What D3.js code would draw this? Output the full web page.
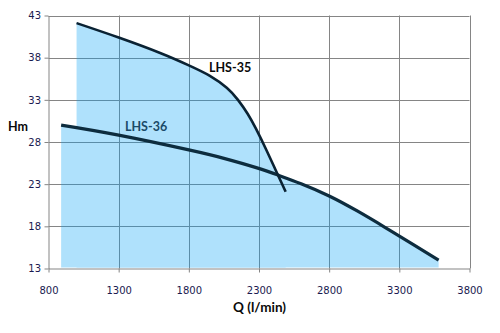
<!DOCTYPE html>
<html><head><meta charset="utf-8">
<script src="https://cdn.jsdelivr.net/npm/d3@7"></script>
<style>html,body{margin:0;padding:0;background:#fff;}</style>
</head><body>
<svg id="c" width="500" height="333"></svg>
<script>
const xTicks = [800, 1300, 1800, 2300, 2800, 3300, 3800];
const yTicks = [13, 18, 23, 28, 33, 38, 43];
const lhs35Q = [1000, 1300, 1600, 1800, 1950, 2070, 2150, 2220, 2280, 2350, 2420, 2490];
const lhs35H = [42.1, 40.39, 38.53, 37.09, 35.85, 34.43, 33.0, 31.32, 29.52, 27.14, 24.62, 22.1];
const lhs36Q = [890, 1300, 1800, 2050, 2280, 2440, 2600, 2800, 3000, 3200, 3400, 3580];
const lhs36H = [30.0, 28.81, 27.06, 26.06, 24.96, 24.05, 23.05, 21.6, 19.82, 17.86, 15.84, 14.0];
const seriesNames = ["LHS-35", "LHS-36"];

const svg = d3.select("#c");
const x = d3.scaleLinear().domain([800, 3800]).range([48.5, 469.5]);
const y = d3.scaleLinear().domain([13, 43]).range([268.5, 15.5]);

const s35 = lhs35Q.map((q, i) => ({q, h: lhs35H[i]}));
const s36 = lhs36Q.map((q, i) => ({q, h: lhs36H[i]}));
const curve = d3.curveNatural;

// grid
const grid = svg.append("g");
grid.selectAll(".gx").data(xTicks.slice(1)).join("line")
  .attr("x1", d => Math.round(x(d)) + 0.5).attr("x2", d => Math.round(x(d)) + 0.5)
  .attr("y1", y(43)).attr("y2", y(13)).attr("stroke", "#858585").attr("stroke-width", 1);
grid.selectAll(".gy").data(yTicks.slice(1)).join("line")
  .attr("y1", d => Math.round(y(d)) + 0.5).attr("y2", d => Math.round(y(d)) + 0.5)
  .attr("x1", x(800)).attr("x2", x(3800)).attr("stroke", "#858585").attr("stroke-width", 1);

// areas
const area = d3.area().x(d => x(d.q)).y0(y(13) - 1).y1(d => y(d.h)).curve(curve);
const ag = svg.append("g").attr("opacity", 0.31);
ag.append("path").datum(s36).attr("d", area).attr("fill", "rgb(0,160,246)");
ag.append("path").datum(s35).attr("d", area).attr("fill", "rgb(0,160,246)");

// axes
const xAxis = d3.axisBottom(x).tickValues(xTicks).tickSize(4).tickSizeOuter(0).tickFormat(d3.format("d"));
const yAxis = d3.axisLeft(y).tickValues(yTicks).tickSize(4).tickSizeOuter(0).tickFormat(d3.format("d"));
const gx = svg.append("g").attr("transform", `translate(0,${y(13)})`).call(xAxis);
const gy = svg.append("g").attr("transform", `translate(${x(800)},0)`).call(yAxis);
[gx, gy].forEach(g => {
  g.select(".domain").attr("stroke", "#858585");
  g.selectAll(".tick line").attr("stroke", "#858585");
  g.selectAll(".tick text").attr("fill", "#1a1a50")
    .style("font-family", "'DejaVu Sans', Verdana, sans-serif").style("font-size", "10px");
});
gx.selectAll(".tick text").attr("y", 0).attr("dy", "0").attr("transform", "translate(0,25.5)");
gy.selectAll(".tick text").attr("x", -7.5);

// lines
const line = d3.line().x(d => x(d.q)).y(d => y(d.h)).curve(curve);
svg.append("path").datum(s36).attr("d", line).attr("fill", "none")
  .attr("stroke", "#0d2c3e").attr("stroke-width", 3.2);
svg.append("path").datum(s35).attr("d", line).attr("fill", "none")
  .attr("stroke", "#0a2233").attr("stroke-width", 2.6);

// labels
const lf = "Lato, 'Open Sans', sans-serif";
svg.append("text").attr("x", 209).attr("y", 71.5).text(seriesNames[0])
  .attr("fill", "#0a0a0a").style("font-family", lf).style("font-weight", "bold").style("font-size", "12.5px");
svg.append("text").attr("x", 125).attr("y", 131).text(seriesNames[1])
  .attr("fill", "#1b4a68").style("font-family", lf).style("font-weight", "bold").style("font-size", "12.5px");
svg.append("text").attr("x", 8).attr("y", 130.7).text("Hm")
  .attr("fill", "#0a0a0a").style("font-family", lf).style("font-weight", "bold").style("font-size", "12.5px");
svg.append("text").attr("x", 259.5).attr("y", 312).attr("text-anchor", "middle").text("Q (l/min)")
  .attr("fill", "#0a0a0a").style("font-family", lf).style("font-weight", "bold").style("font-size", "13.5px");
</script>
</body></html>
